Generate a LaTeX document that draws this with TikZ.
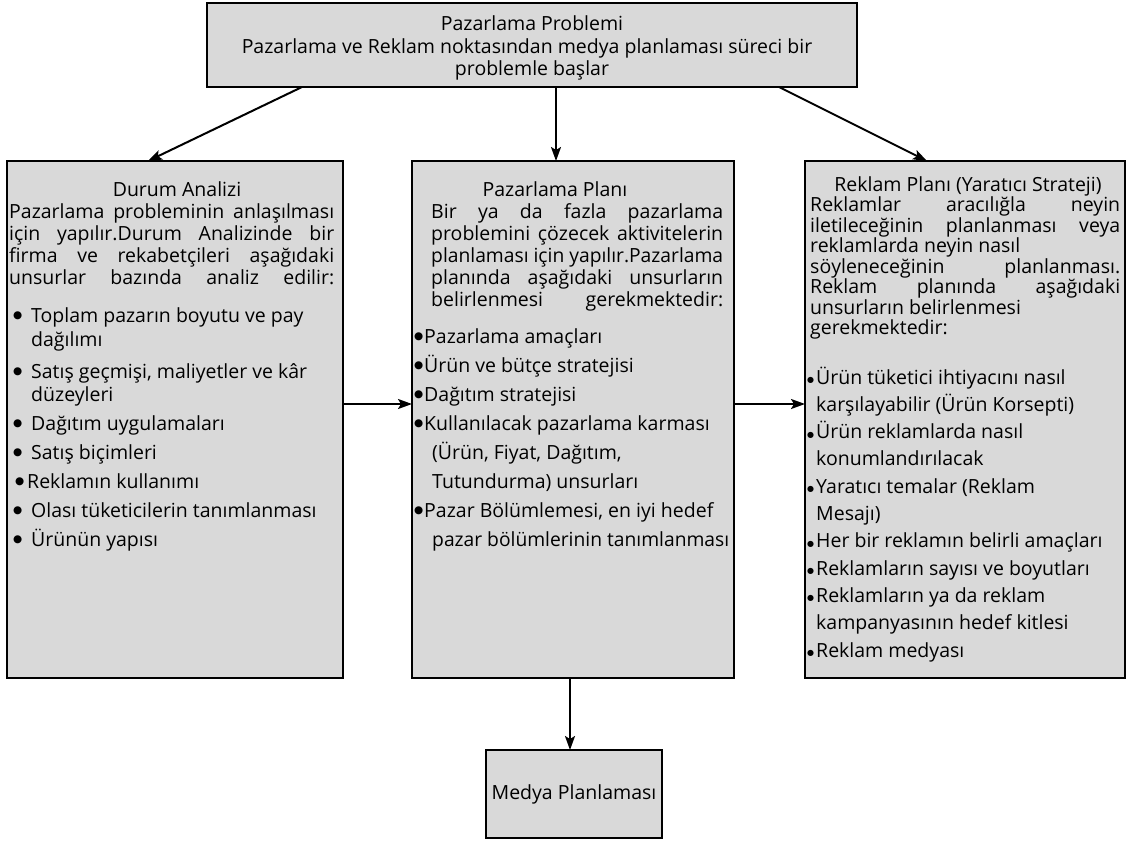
\documentclass[tikz,border=0pt]{standalone}
\usepackage{fontspec}
\usepackage{graphicx}
\setmainfont{Open Sans}
\newfontfamily\symfont{DejaVu Sans}
\usetikzlibrary{arrows.meta,calc}
\definecolor{boxgray}{RGB}{217,217,217}
\newcommand\bodysize{\fontsize{19.5pt}{22pt}\selectfont}
% a line set to a given width: spaces stretched, or the line narrowed if too long
\newsavebox\linebox
\newcommand\jline[2]{%
  \sbox\linebox{#2}%
  \ifdim\wd\linebox>#1\relax
    \edef\lwd{\the\wd\linebox}%
    \pgfmathsetmacro\lratio{#1/\lwd}%
    \scalebox{\lratio}[1]{\usebox\linebox}%
  \else
    \makebox[#1][s]{#2}%
  \fi}
% bullets: full size and small
\newcommand\bigdot{\raisebox{3.6pt}{\fontsize{10.5pt}{10.5pt}\symfont ●}}
\newcommand\bitem[1]{\makebox[#1][l]{\bigdot}}
\newcommand\sbitem{\makebox[9pt][l]{\raisebox{1.5pt}{\fontsize{8pt}{8pt}\symfont ●}}}

\begin{document}
\begin{tikzpicture}[x=1pt,y=-1pt,
  panel/.style={draw=black, line width=2.6pt, fill=boxgray, inner sep=0pt, outer sep=0pt},
  ln/.style={anchor=base west, inner sep=0pt, font=\bodysize},
  cl/.style={anchor=base, inner sep=0pt, font=\bodysize},
  arr/.style={line width=2pt, -{Stealth[length=14pt,width=10pt,inset=3pt]}}]
\useasboundingbox (0,0) rectangle (1129,844);

% boxes
\node[panel, minimum width=650pt, minimum height=84pt] (top) at (532,45) {};
\node[panel, minimum width=336pt, minimum height=517pt] (sit) at (175,419.5) {};
\node[panel, minimum width=322pt, minimum height=517pt] (mkt) at (573,419.5) {};
\node[panel, minimum width=320pt, minimum height=517pt] (adv) at (965,419.5) {};
\node[panel, minimum width=176pt, minimum height=88pt, font=\bodysize] (med) at (574,794) {Medya Planlaması};

% connectors
\draw[arr] ([xshift=-230pt]top.south) -- ([xshift=-27pt]sit.north);
\draw[arr] ([xshift=24pt]top.south) -- ([xshift=-17pt]mkt.north);
\draw[arr] ([xshift=247pt]top.south) -- ([xshift=-38pt]adv.north);
\draw[arr] ([yshift=15.5pt]sit.east) -- ([yshift=15.5pt]mkt.west);
\draw[arr] ([yshift=15.5pt]mkt.east) -- ([yshift=15.5pt]adv.west);
\draw[arr] ([xshift=-3pt]mkt.south) -- ([xshift=-4pt]med.north);

% top box text
\node[cl] (topT) at (532,30) {Pazarlama Problemi};
\node[cl] (top1) at (527,53) {Pazarlama ve Reklam noktasından medya planlaması süreci bir};
\node[cl] (top2) at (532,75.5) {problemle başlar};

% situation analysis
\node[cl] (sitT) at (177,196) {Durum Analizi};
\node[ln] (sit1) at (9,218) {\jline{325pt}{Pazarlama probleminin anlaşılması}};
\node[ln] (sit2) at (9,240) {\jline{325pt}{için yapılır.Durum Analizinde bir}};
\node[ln] (sit3) at (9,262) {\jline{325pt}{firma ve rekabetçileri aşağıdaki}};
\node[ln] (sit4) at (9,284) {\jline{325pt}{unsurlar bazında analiz edilir:}};
\node[ln] (sitA) at (13,322) {\bitem{18pt}Toplam pazarın boyutu ve pay};
\node[ln] (sitA2) at (31,346) {dağılımı};
\node[ln] (sitB) at (13,378) {\bitem{18pt}Satış geçmişi, maliyetler ve kâr};
\node[ln] (sitB2) at (31,401) {düzeyleri};
\node[ln] (sitC) at (13,430) {\bitem{18pt}Dağıtım uygulamaları};
\node[ln] (sitD) at (13,459) {\bitem{18pt}Satış biçimleri};
\node[ln] (sitE) at (15,488) {\bitem{12pt}Reklamın kullanımı};
\node[ln] (sitF) at (13,517) {\bitem{18pt}Olası tüketicilerin tanımlanması};
\node[ln] (sitG) at (13,546) {\bitem{18pt}Ürünün yapısı};

% marketing plan
\node[cl] (mktT) at (555,196) {Pazarlama Planı};
\node[ln] (mkt1) at (431,218) {\jline{292pt}{Bir ya da fazla pazarlama}};
\node[ln] (mkt2) at (431,240) {\jline{292pt}{problemini çözecek aktivitelerin}};
\node[ln] (mkt3) at (431,262) {\jline{292pt}{planlaması için yapılır.Pazarlama}};
\node[ln] (mkt4) at (431,284) {\jline{292pt}{planında aşağıdaki unsurların}};
\node[ln] (mkt5) at (431,306) {\jline{292pt}{belirlenmesi gerekmektedir:}};
\node[ln] (mktA) at (414,343) {\bitem{10pt}Pazarlama amaçları};
\node[ln] (mktB) at (414,372) {\bitem{10pt}Ürün ve bütçe stratejisi};
\node[ln] (mktC) at (414,401) {\bitem{10pt}Dağıtım stratejisi};
\node[ln] (mktD) at (414,430) {\bitem{10pt}Kullanılacak pazarlama karması};
\node[ln] (mktD2) at (432,459) {(Ürün, Fiyat, Dağıtım,};
\node[ln] (mktD3) at (432,488) {Tutundurma) unsurları};
\node[ln] (mktE) at (414,517) {\bitem{10pt}Pazar Bölümlemesi, en iyi hedef};
\node[ln] (mktE2) at (432,546) {\jline{297pt}{pazar bölümlerinin tanımlanması}};

% advertising plan
\node[cl] (advT) at (968,191) {Reklam Planı (Yaratıcı Strateji)};
\node[ln] (adv1) at (810,211.5) {\jline{310pt}{Reklamlar aracılığla neyin}};
\node[ln] (adv2) at (810,232) {\jline{310pt}{iletileceğinin planlanması veya}};
\node[ln] (adv3) at (810,252.5) {reklamlarda neyin nasıl};
\node[ln] (adv4) at (810,273) {\jline{310pt}{söyleneceğinin planlanması.}};
\node[ln] (adv5) at (810,293.5) {\jline{310pt}{Reklam planında aşağıdaki}};
\node[ln] (adv6) at (810,314) {unsurların belirlenmesi};
\node[ln] (adv7) at (810,334.5) {gerekmektedir:};
\node[ln] (advA) at (807,384) {\sbitem Ürün tüketici ihtiyacını nasıl};
\node[ln] (advA2) at (816,411.3) {karşılayabilir (Ürün Korsepti)};
\node[ln] (advB) at (807,438.6) {\sbitem Ürün reklamlarda nasıl};
\node[ln] (advB2) at (816,465.9) {konumlandırılacak};
\node[ln] (advC) at (807,493.2) {\sbitem Yaratıcı temalar (Reklam};
\node[ln] (advC2) at (816,520.5) {Mesajı)};
\node[ln] (advD) at (807,547.8) {\sbitem Her bir reklamın belirli amaçları};
\node[ln] (advE) at (807,575.1) {\sbitem Reklamların sayısı ve boyutları};
\node[ln] (advF) at (807,602.4) {\sbitem Reklamların ya da reklam};
\node[ln] (advF2) at (816,629.7) {kampanyasının hedef kitlesi};
\node[ln] (advG) at (807,657) {\sbitem Reklam medyası};
\end{tikzpicture}
\end{document}
